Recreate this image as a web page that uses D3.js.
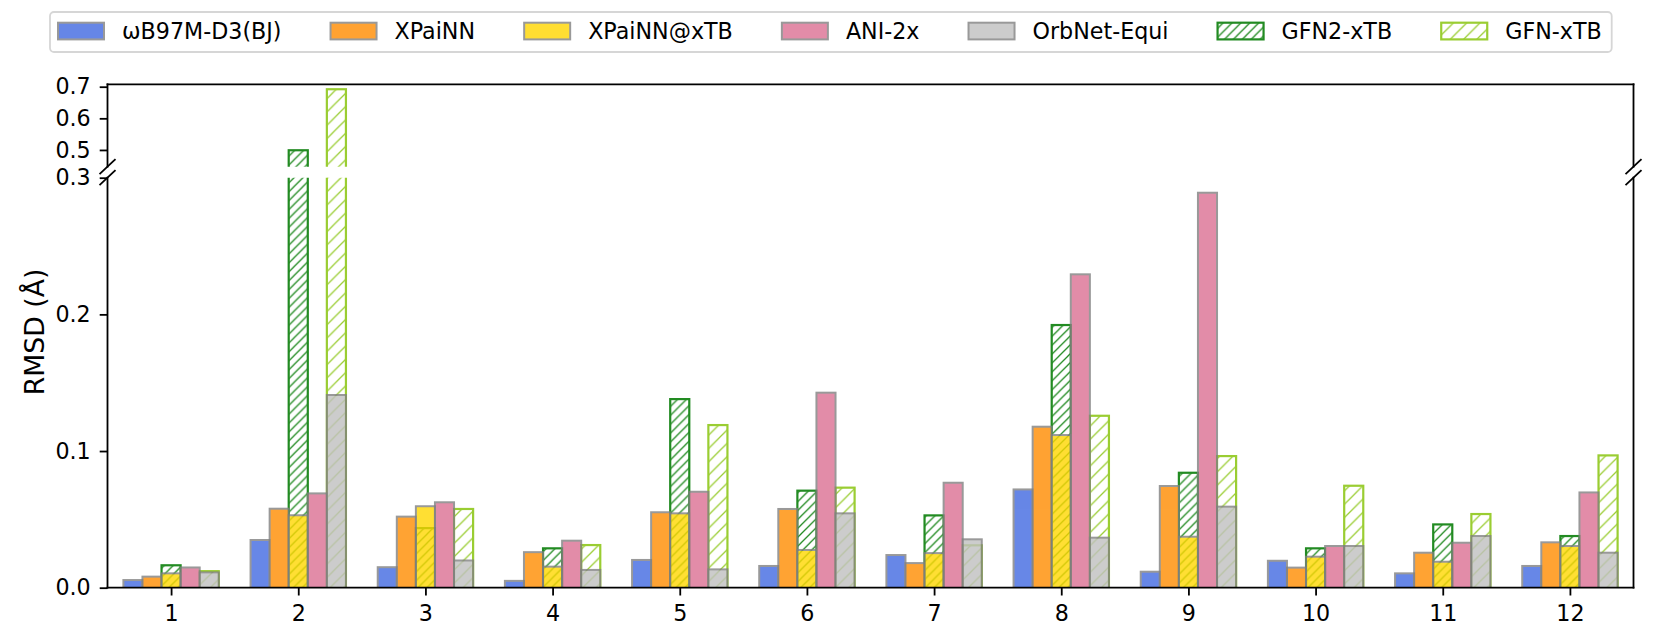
<!DOCTYPE html>
<html>
<head>
<meta charset="utf-8">
<script src="https://cdn.jsdelivr.net/npm/d3@7"></script>
<style>
  body { margin: 0; background: #fff; }
  svg text { font-family: "DejaVu Sans", sans-serif; fill: #000; }
</style>
</head>
<body>
<div id="chart"></div>
<script>
// data
const groups = [1, 2, 3, 4, 5, 6, 7, 8, 9, 10, 11, 12];
const wb97m     = [0.0056, 0.0349, 0.0150, 0.0050, 0.0203, 0.0159, 0.0239, 0.0719, 0.0117, 0.0197, 0.0105, 0.0159];
const xpainn    = [0.0081, 0.0578, 0.0520, 0.0260, 0.0552, 0.0576, 0.0180, 0.1178, 0.0744, 0.0147, 0.0256, 0.0332];
const xpainnXtb = [0.0105, 0.0530, 0.0596, 0.0154, 0.0544, 0.0276, 0.0253, 0.1117, 0.0373, 0.0227, 0.0190, 0.0305];
const ani2x     = [0.0148, 0.0690, 0.0625, 0.0344, 0.0702, 0.1427, 0.0768, 0.2293, 0.2890, 0.0305, 0.0329, 0.0697];
const orbnet    = [0.0112, 0.1410, 0.0199, 0.0130, 0.0134, 0.0544, 0.0354, 0.0366, 0.0593, 0.0305, 0.0378, 0.0256];
const gfn2      = [0.0164, 0.4990, 0.0436, 0.0288, 0.1380, 0.0710, 0.0529, 0.1922, 0.0841, 0.0288, 0.0463, 0.0378];
const gfn1      = [0.0121, 0.6920, 0.0576, 0.0312, 0.1190, 0.0732, 0.0310, 0.1258, 0.0963, 0.0746, 0.0539, 0.0968];

const seriesNames = ["ωB97M-D3(BJ)", "XPaiNN", "XPaiNN@xTB", "ANI-2x", "OrbNet-Equi", "GFN2-xTB", "GFN-xTB"];
const lowerTicks = [0.0, 0.1, 0.2, 0.3];
const upperTicks = [0.5, 0.6, 0.7];

const width = 1661, height = 638;
const fs = 22.2;

// solid bars (drawn on top, semi transparent) and hatched bars (drawn underneath)
const solid = [
  { name: seriesNames[0], values: wb97m,     slot: -2, color: "royalblue" },
  { name: seriesNames[1], values: xpainn,    slot: -1, color: "darkorange" },
  { name: seriesNames[2], values: xpainnXtb, slot:  0, color: "gold" },
  { name: seriesNames[3], values: ani2x,     slot:  1, color: "palevioletred" },
  { name: seriesNames[4], values: orbnet,    slot:  2, color: "silver" }
];
const hatched = [
  { name: seriesNames[5], values: gfn2, slot: 0, color: "forestgreen", id: "hatch-gfn2", step: 8.9 },
  { name: seriesNames[6], values: gfn1, slot: 2, color: "yellowgreen", id: "hatch-gfn1", step: 13.3 }
];

let svg = d3.select("#chart")
  .append("svg")
    .attr("width", width)
    .attr("height", height);

const defs = svg.append("defs");

// hatch patterns
hatched.forEach((h) => {
  const p = h.step;
  defs.append("pattern")
      .attr("id", h.id)
      .attr("patternUnits", "userSpaceOnUse")
      .attr("width", p)
      .attr("height", p)
    .append("path")
      .attr("d", `M0,${p} L${p},0 M${-p / 2},${p / 2} L${p / 2},${-p / 2} M${p / 2},${p * 1.5} L${p * 1.5},${p / 2}`)
      .attr("stroke", h.color)
      .attr("stroke-width", 1.3)
      .attr("fill", "none");
});

const xLeft = 107.5, xRight = 1633.5;
const x = d3.scaleLinear().domain([0.5, 12.5]).range([xLeft, xRight]);
const barW = 0.15;

const yLow = d3.scaleLinear().domain([0, 0.3]).range([587.7, 177.7]);
const yHigh = d3.scaleLinear().domain([0.447, 0.7076]).range([166.7, 84.3]);

const panels = [
  { name: "low", y: yLow },
  { name: "high", y: yHigh }
];

panels.forEach((pan) => {
  const [y0, y1] = pan.y.range();
  defs.append("clipPath")
      .attr("id", "clip-" + pan.name)
    .append("rect")
      .attr("x", xLeft)
      .attr("y", y1)
      .attr("width", xRight - xLeft)
      .attr("height", y0 - y1);

  const g = svg.append("g").attr("clip-path", `url(#clip-${pan.name})`);
  const base = y0 + 6; // bottom edge hidden under the spine / clip

  hatched.forEach((h) => {
    g.selectAll(null)
      .data(groups.map((d, i) => ({ g: d, v: h.values[i] })))
      .enter()
      .append("rect")
        .attr("x", (d) => x(d.g + h.slot * barW - barW / 2))
        .attr("width", x(barW) - x(0))
        .attr("y", (d) => pan.y(d.v))
        .attr("height", (d) => Math.max(0, base - pan.y(d.v)))
        .attr("fill", `url(#${h.id})`)
        .attr("stroke", h.color)
        .attr("stroke-width", 2.2);
  });

  solid.forEach((s) => {
    g.selectAll(null)
      .data(groups.map((d, i) => ({ g: d, v: s.values[i] })))
      .enter()
      .append("rect")
        .attr("x", (d) => x(d.g + s.slot * barW - barW / 2))
        .attr("width", x(barW) - x(0))
        .attr("y", (d) => pan.y(d.v))
        .attr("height", (d) => Math.max(0, base - pan.y(d.v)))
        .attr("fill", s.color)
        .attr("stroke", "gray")
        .attr("stroke-width", 2)
        .attr("opacity", 0.8);
  });
});

// y axes
function styleAxis(sel) {
  sel.select(".domain").remove();
  sel.selectAll(".tick line").attr("stroke", "#000").attr("stroke-width", 1.8);
  sel.selectAll(".tick text").attr("font-size", fs + "px").attr("fill", "#000")
     .attr("font-family", "DejaVu Sans, sans-serif");
}

svg.append("g")
    .attr("transform", `translate(${xLeft}, 0)`)
    .call(d3.axisLeft(yLow).tickValues(lowerTicks).tickFormat(d3.format(".1f")).tickSize(7.8).tickPadding(9))
    .call(styleAxis);

svg.append("g")
    .attr("transform", `translate(${xLeft}, 0)`)
    .call(d3.axisLeft(yHigh).tickValues(upperTicks).tickFormat(d3.format(".1f")).tickSize(7.8).tickPadding(9))
    .call(styleAxis);

// x axis
svg.append("g")
    .attr("transform", `translate(0, ${yLow(0)})`)
    .call(d3.axisBottom(x).tickValues(groups).tickFormat(d3.format("d")).tickSize(7.8).tickPadding(10))
    .call(styleAxis);

// spines
const spine = (x1, y1, x2, y2) => svg.append("line")
  .attr("x1", x1).attr("y1", y1).attr("x2", x2).attr("y2", y2)
  .attr("stroke", "#000").attr("stroke-width", 1.8).attr("stroke-linecap", "square");

spine(xLeft, yHigh.range()[1], xRight, yHigh.range()[1]);
spine(xLeft, yHigh.range()[1], xLeft, yHigh.range()[0]);
spine(xRight, yHigh.range()[1], xRight, yHigh.range()[0]);
spine(xLeft, yLow.range()[1], xLeft, yLow.range()[0]);
spine(xRight, yLow.range()[1], xRight, yLow.range()[0]);
spine(xLeft, yLow.range()[0], xRight, yLow.range()[0]);

// break marks
[xLeft, xRight].forEach((bx) => {
  [yHigh.range()[0], yLow.range()[1]].forEach((by) => {
    svg.append("line")
      .attr("x1", bx - 8).attr("y1", by + 7.5)
      .attr("x2", bx + 8).attr("y2", by - 7.5)
      .attr("stroke", "#000").attr("stroke-width", 1.8);
  });
});

// y label
svg.append("text")
    .attr("transform", "translate(44, 332) rotate(-90)")
    .attr("text-anchor", "middle")
    .attr("font-size", "26.7px")
    .text("RMSD (Å)");

// legend
const legend = svg.append("g");
const legBox = legend.append("rect")
    .attr("x", 50).attr("y", 12)
    .attr("width", 1611.7 - 50).attr("height", 40)
    .attr("rx", 4)
    .attr("fill", "#fff")
    .attr("stroke", "#d6d6d6")
    .attr("stroke-width", 1.8);

const entries = solid.map((s) => ({ name: s.name, color: s.color, hatch: null }))
  .concat(hatched.map((h) => ({ name: h.name, color: h.color, hatch: h.id })));

const patchW = 46, patchH = 16.7, gap = 18;
const texts = entries.map((e) => legend.append("text")
    .attr("font-size", fs + "px")
    .attr("y", 31.5)
    .attr("dy", "0.35em")
    .text(e.name));
const widths = texts.map((t) => t.node().getComputedTextLength());
const total = d3.sum(widths) + entries.length * (patchW + gap);
const colSep = (1601.7 - 58 - total) / (entries.length - 1);

let cx = 58;
entries.forEach((e, i) => {
  const r = legend.append("rect")
      .attr("x", cx).attr("y", 22.7)
      .attr("width", patchW).attr("height", patchH);
  if (e.hatch) {
    r.attr("fill", `url(#${e.hatch})`).attr("stroke", e.color).attr("stroke-width", 2.2);
  } else {
    r.attr("fill", e.color).attr("stroke", "gray").attr("stroke-width", 2).attr("opacity", 0.8);
  }
  texts[i].attr("x", cx + patchW + gap);
  cx += patchW + gap + widths[i] + colSep;
});
</script>
</body>
</html>
